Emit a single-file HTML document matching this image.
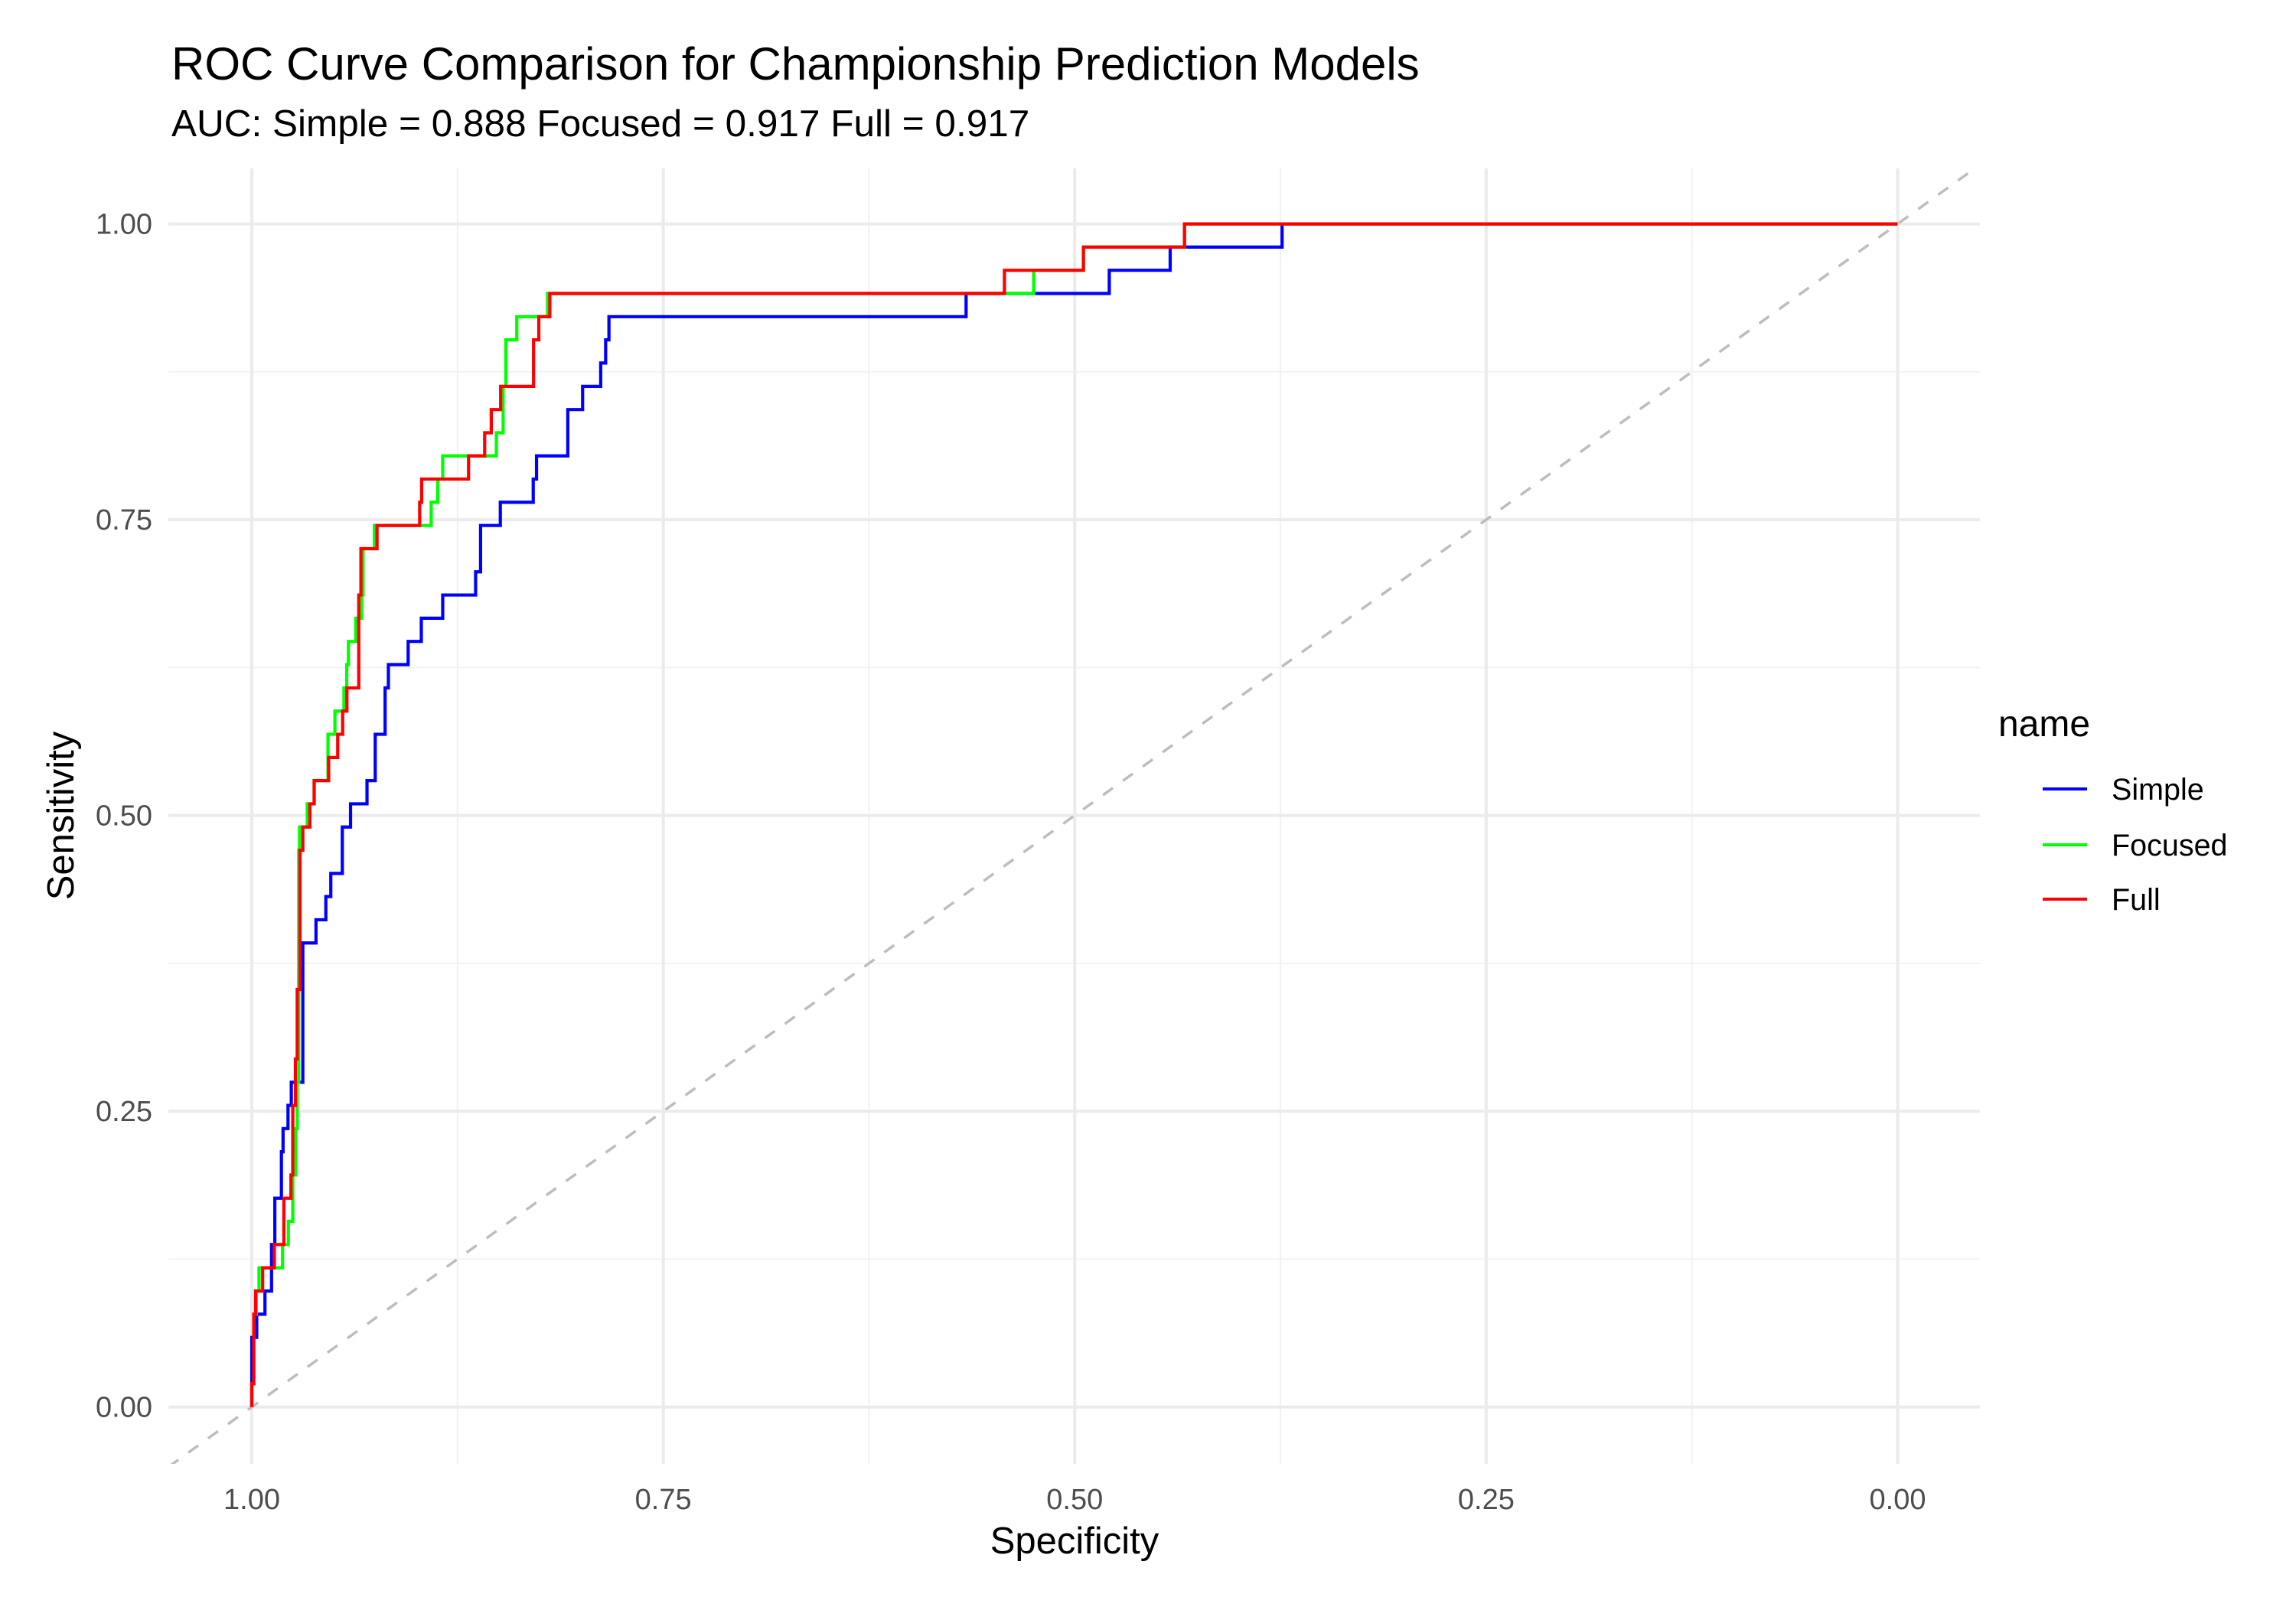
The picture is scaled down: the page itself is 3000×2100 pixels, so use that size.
<!DOCTYPE html>
<html><head><meta charset="utf-8">
<style>
html,body{margin:0;padding:0;background:#fff;}
svg{display:block;font-family:"Liberation Sans",Arial,sans-serif;}
</style></head>
<body>
<svg id="chart" width="3000" height="2100" viewBox="0 0 3000 2100" xmlns="http://www.w3.org/2000/svg">
<rect width="3000" height="2100" fill="#fff"/>
<text x="224" y="104" font-size="60" fill="#000">ROC Curve Comparison for Championship Prediction Models</text>
<text x="224" y="178" font-size="49.5" fill="#000">AUC: Simple = 0.888 Focused = 0.917 Full = 0.917</text>
<g id="grid"></g>
<g id="ticks"></g>
<g id="series"></g>
<text x="1404" y="2030" font-size="49" text-anchor="middle" fill="#000">Specificity</text>
<text transform="translate(96,1066) rotate(-90)" font-size="49" text-anchor="middle" fill="#000">Sensitivity</text>
<g>
<text x="2611" y="962" font-size="48" fill="#000">name</text>
<g><line x1="2669" x2="2727" y1="1031" y2="1031" stroke="#0000ff" stroke-width="4"/><text x="2759" y="1045" font-size="39.5" fill="#000">Simple</text></g>
<g><line x1="2669" x2="2727" y1="1104" y2="1104" stroke="#00ff00" stroke-width="4"/><text x="2759" y="1118" font-size="39.5" fill="#000">Focused</text></g>
<g><line x1="2669" x2="2727" y1="1175" y2="1175" stroke="#ff0000" stroke-width="4"/><text x="2759" y="1189" font-size="39.5" fill="#000">Full</text></g>
</g>
</svg>
<script>
const tickValues = [1.00, 0.75, 0.50, 0.25, 0.00];
const tickLabels = ["1.00", "0.75", "0.50", "0.25", "0.00"];
const seriesNames = ["Simple", "Focused", "Full"];
const simpleSpec = [1.000,0.997,0.992,0.988,0.986,0.982,0.981,0.978,0.976,0.969,0.961,0.955,0.952,0.945,0.940,0.930,0.925,0.919,0.917,0.905,0.897,0.884,0.864,0.861,0.849,0.829,0.827,0.808,0.799,0.788,0.785,0.783,0.566,0.479,0.442,0.374,0.000];
const simpleSens = [.0588,.0784,.098,.1373,.1765,.2157,.2353,.2549,.2745,.3922,.4118,.4314,.451,.4902,.5098,.5294,.5686,.6078,.6275,.6471,.6667,.6863,.7059,.7451,.7647,.7843,.8039,.8431,.8627,.8824,.902,.9216,.9412,.9608,.9804,1,1];
const focusedSpec = [1.000,0.9988,0.9973,0.9956,0.9813,0.9778,0.9751,0.9733,0.9724,0.9715,0.9710,0.9663,0.9621,0.9537,0.9495,0.9440,0.9423,0.9413,0.9368,0.9333,0.9324,0.9255,0.8910,0.8870,0.8840,0.8514,0.8473,0.8456,0.8390,0.8203,0.5249,0.4947,0.4333,0.000];
const focusedSens = [.0196,.0784,.098,.1176,.1373,.1569,.1961,.2353,.2745,.4706,.4902,.5098,.5294,.5686,.5882,.6078,.6275,.6471,.6667,.6863,.7255,.7451,.7647,.7843,.8039,.8235,.8627,.902,.9216,.9412,.9608,.9804,1,1];
const fullSpec = [1.000,0.9988,0.9977,0.9934,0.9863,0.9805,0.9762,0.9751,0.9735,0.9724,0.9707,0.9690,0.9647,0.9621,0.9533,0.9478,0.9448,0.9422,0.9350,0.9337,0.9239,0.8980,0.8968,0.8683,0.8585,0.8545,0.8488,0.8288,0.8256,0.8189,0.5427,0.4947,0.4333,0.000];
const fullSens = [.0196,.0784,.098,.1176,.1373,.1765,.1961,.2549,.2941,.3529,.4706,.4902,.5098,.5294,.549,.5686,.5882,.6078,.6863,.7255,.7451,.7647,.7843,.8039,.8235,.8431,.8627,.902,.9216,.9412,.9608,.9804,1,1];

const NS = "http://www.w3.org/2000/svg";
const PX0 = 220, PX1 = 2587, PY0 = 220, PY1 = 1913;
function xScale(spec){ return 329 + (1 - spec) * 2150.5; }
function yScale(sens){ return 1838.6 - sens * 1546; }
function mk(tag, attrs, parent){ const e = document.createElementNS(NS, tag); for (const k in attrs) e.setAttribute(k, attrs[k]); parent.appendChild(e); return e; }

const grid = document.getElementById('grid');
for (let i = 0; i < tickValues.length - 1; i++) {
  const m = (tickValues[i] + tickValues[i+1]) / 2;
  const vx = mk('line', {x1:xScale(m), x2:xScale(m), y1:PY0, y2:PY1, stroke:'#f2f2f2', 'stroke-width':2}, grid);
  
  
  const hy = mk('line', {x1:PX0, x2:PX1, y1:yScale(m), y2:yScale(m), stroke:'#f2f2f2', 'stroke-width':2}, grid);
  
  
}
const ticks = document.getElementById('ticks');
tickValues.forEach((v, i) => {
  const vx = mk('line', {x1:xScale(v), x2:xScale(v), y1:PY0, y2:PY1, stroke:'#ebebeb', 'stroke-width':4}, grid);
  
  
  const hy = mk('line', {x1:PX0, x2:PX1, y1:yScale(v), y2:yScale(v), stroke:'#ebebeb', 'stroke-width':4}, grid);
  
  
  const tx = mk('text', {x:xScale(v), y:1972, 'font-size':38, 'text-anchor':'middle', fill:'#4d4d4d'}, ticks);
  tx.textContent = tickLabels[i];
  
  
  const ty = mk('text', {x:199, y:yScale(v) + 13, 'font-size':38, 'text-anchor':'end', fill:'#4d4d4d'}, ticks);
  ty.textContent = tickLabels[i];
  
  
});

const series = document.getElementById('series');
const cp = mk('clipPath', {id:'panelClip'}, document.getElementById('chart'));
mk('rect', {x:PX0, y:PY0, width:PX1-PX0, height:PY1-PY0}, cp);
(function(){
  const specAt = x => 1 - (x - 329) / 2150.5;
  const d = mk('line', {x1:PX0, y1:yScale(1 - specAt(PX0)), x2:PX1, y2:yScale(1 - specAt(PX1)), stroke:'#bdbdbd', 'stroke-width':3.5, 'stroke-dasharray':'16 16', 'clip-path':'url(#panelClip)'}, series);
  
  
})();

function drawSteps(specs, sens, color, name){
  let d = 'M' + xScale(specs[0]) + ',' + yScale(0);
  for (let i = 0; i < specs.length; i++) {
    d += ' L' + xScale(specs[i]) + ',' + yScale(sens[i]);
    if (i + 1 < specs.length) d += ' L' + xScale(specs[i+1]) + ',' + yScale(sens[i]);
  }
  const p = mk('path', {d:d, fill:'none', stroke:color, 'stroke-width':4.2, 'stroke-linejoin':'miter'}, series);
  
  
}
drawSteps(simpleSpec, simpleSens, '#0000ff', 'roc-curve-simple');
drawSteps(focusedSpec, focusedSens, '#00ff00', 'roc-curve-focused');
drawSteps(fullSpec, fullSens, '#ff0000', 'roc-curve-full');
</script>
</body></html>
